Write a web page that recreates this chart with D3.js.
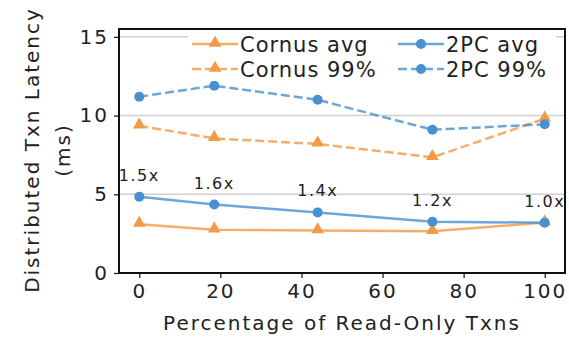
<!DOCTYPE html>
<html>
<head>
<meta charset="utf-8">
<script src="https://cdn.jsdelivr.net/npm/d3@7"></script>
<style>
  html, body { margin: 0; padding: 0; background: #fff; }
  svg text { font-family: "DejaVu Sans", sans-serif; fill: #222; }
</style>
</head>
<body>
<svg id="chart" width="569" height="340"></svg>
<script>
// Read-only transaction share (%) for each experiment run
const readOnlyPct = [0, 18.5, 44, 72.3, 100];
// Latency in ms
const cornusAvg = [3.1, 2.75, 2.7, 2.65, 3.2];
const twoPcAvg  = [4.85, 4.35, 3.85, 3.25, 3.2];
const cornus99  = [9.35, 8.55, 8.2, 7.35, 9.8];
const twoPc99   = [11.2, 11.9, 11.0, 9.1, 9.45];
// Speedup of Cornus over 2PC (avg)
const speedups  = ["1.5x", "1.6x", "1.4x", "1.2x", "1.0x"];
const xTicks = [0, 20, 40, 60, 80, 100];
const yTicks = [0, 5, 10, 15];

const ORANGE = "#f29a45";
const BLUE = "#4890cf";

const series = [
  { name: "Cornus avg", values: cornusAvg, color: ORANGE, dash: null, marker: "tri" },
  { name: "2PC avg",    values: twoPcAvg,  color: BLUE,   dash: null, marker: "circ" },
  { name: "Cornus 99%", values: cornus99,  color: ORANGE, dash: "9,4", marker: "tri" },
  { name: "2PC 99%",    values: twoPc99,   color: BLUE,   dash: "9,4", marker: "circ" }
];

const svg = d3.select("#chart");
const m = { left: 119, right: 4, top: 29, bottom: 67 };
const W = 569, H = 340;

const x = d3.scaleLinear().domain([-5, 105]).range([m.left, W - m.right]);
const y = d3.scaleLinear().domain([0, 15.5]).range([H - m.bottom, m.top]);

// horizontal grid
svg.append("g").selectAll("line").data(yTicks.filter(d => d > 0)).join("line")
  .attr("x1", m.left).attr("x2", W - m.right)
  .attr("y1", d => y(d)).attr("y2", d => y(d))
  .attr("stroke", "#cfcfcf").attr("stroke-width", 1.5);

// axes
const xAxis = svg.append("g").attr("transform", `translate(0,${H - m.bottom})`)
  .call(d3.axisBottom(x).tickValues(xTicks).tickSize(5).tickPadding(6));
const yAxis = svg.append("g").attr("transform", `translate(${m.left},0)`)
  .call(d3.axisLeft(y).tickValues(yTicks).tickSize(5).tickPadding(5));
[xAxis, yAxis].forEach(g => {
  g.select(".domain").remove();
  g.selectAll(".tick line").attr("stroke", "#222").attr("stroke-width", 1.3);
  g.selectAll(".tick text").attr("font-size", 20).attr("letter-spacing", 2)
    .style("font-family", "DejaVu Sans").attr("fill", "#222");
});

// frame
svg.append("rect")
  .attr("x", m.left).attr("y", m.top)
  .attr("width", W - m.right - m.left).attr("height", H - m.bottom - m.top)
  .attr("fill", "none").attr("stroke", "#111").attr("stroke-width", 2);

// lines and markers
const line = d3.line().x((d, i) => x(readOnlyPct[i])).y(d => y(d));
const tri = d3.symbol().type(d3.symbolTriangle).size(70);

function drawMarker(g, kind, color) {
  if (kind === "tri") {
    g.append("path").attr("d", tri()).attr("fill", color).attr("transform", "translate(0,-1)");
  } else {
    g.append("circle").attr("r", 5).attr("fill", color);
  }
}

series.forEach(s => {
  svg.append("path").datum(s.values)
    .attr("d", line).attr("fill", "none")
    .attr("stroke", s.color).attr("stroke-width", 2.5).attr("stroke-opacity", 0.8)
    .attr("stroke-dasharray", s.dash);
  s.values.forEach((v, i) => {
    const g = svg.append("g").attr("transform", `translate(${x(readOnlyPct[i])},${y(v)})`);
    drawMarker(g, s.marker, s.color);
  });
});

// speedup labels above 2PC avg
svg.append("g").selectAll("text").data(speedups).join("text")
  .attr("x", (d, i) => x(readOnlyPct[i]))
  .attr("y", (d, i) => y(twoPcAvg[i]) - 16)
  .attr("text-anchor", "middle")
  .attr("font-size", 16).attr("letter-spacing", 1.5)
  .text(d => d);

// legend
const leg = svg.append("g");
leg.append("rect").attr("x", 188).attr("y", 31).attr("width", 368).attr("height", 50).attr("fill", "#fff");
const legPos = [
  { s: series[0], x: 192, y: 44 },
  { s: series[1], x: 398, y: 44 },
  { s: series[2], x: 192, y: 69 },
  { s: series[3], x: 398, y: 69 }
];
legPos.forEach(p => {
  leg.append("line").attr("x1", p.x).attr("x2", p.x + 46)
    .attr("y1", p.y).attr("y2", p.y)
    .attr("stroke", p.s.color).attr("stroke-width", 2.5).attr("stroke-opacity", 0.8)
    .attr("stroke-dasharray", p.s.dash);
  const g = leg.append("g").attr("transform", `translate(${p.x + 23},${p.y})`);
  drawMarker(g, p.s.marker, p.s.color);
  leg.append("text").attr("x", p.x + 48).attr("y", p.y).attr("dy", "0.36em")
    .attr("font-size", 21).attr("letter-spacing", 1).text(p.s.name);
});

// axis titles
svg.append("text")
  .attr("x", (m.left + W - m.right) / 2).attr("y", 330)
  .attr("text-anchor", "middle").attr("font-size", 20).attr("letter-spacing", 2)
  .text("Percentage of Read-Only Txns");
const yt = svg.append("text")
  .attr("transform", "translate(39,150) rotate(-90)")
  .attr("text-anchor", "middle").attr("font-size", 20).attr("letter-spacing", 2);
yt.append("tspan").attr("x", 0).attr("y", 0).text("Distributed Txn Latency");
yt.append("tspan").attr("x", 0).attr("y", 31).text("(ms)");
</script>
</body>
</html>
